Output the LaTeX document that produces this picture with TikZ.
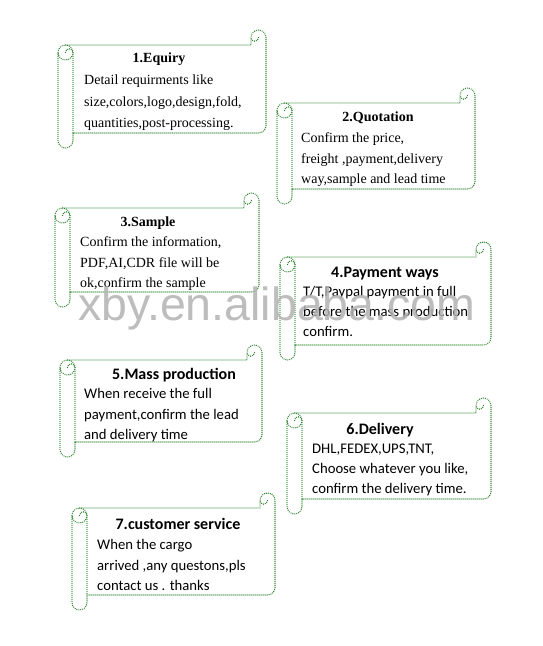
\documentclass[tikz,border=0pt]{standalone}
\usepackage{fontspec}
\setmainfont{Liberation Serif}
\newfontfamily\calib{Carlito}
\newfontfamily\wmfont{Liberation Sans}
\definecolor{scrollgreen}{RGB}{40,130,40}
\definecolor{wmgray}{RGB}{178,178,178}
\tikzset{
  scrollline/.style={draw=scrollgreen, line width=1.35pt, dash pattern=on 0pt off 2pt, line cap=round},
  ttl/.style={anchor=base, inner sep=0pt, font=\fontsize{14}{16}\selectfont\bfseries},
  bdy/.style={anchor=base west, inner sep=0pt, font=\fontsize{14}{16}\selectfont},
  cttl/.style={anchor=base, inner sep=0pt, font=\calib\fontsize{16}{18}\selectfont\bfseries},
  cbdy/.style={anchor=base west, inner sep=0pt, font=\calib\fontsize{14.7}{17}\selectfont},
  watermark/.style={anchor=base west, inner sep=0pt, text=wmgray, opacity=0.85, font=\wmfont\fontsize{46.5}{50}\selectfont}
}
\newcommand\myscroll[5]{%
  \pgfmathsetmacro\ra{#5/2}%
  \pgfmathsetmacro\rb{#5/4}%
  \draw[scrollline] (#1,#2+#5+\ra) -- (#1,#4-\ra)
     arc[start angle=180,end angle=0,radius=\ra] -- (#1+#5,#4-#5)
     -- (#3-\ra,#4-#5) arc[start angle=90,end angle=0,radius=\ra]
     -- (#3,#2+\ra) arc[start angle=0,end angle=-180,radius=\ra]
     -- (#3-#5,#2+#5) -- (#1+\ra,#2+#5)
     arc[start angle=270,end angle=180,radius=\ra] -- cycle;
  \draw[scrollline] (#1+\ra,#2+#5) arc[start angle=270,end angle=540,radius=\ra];
  \draw[scrollline] (#1+#5,#2+#5+\ra) -- (#1+#5,#4-#5);
  \draw[scrollline] (#3-\ra,#2+\ra) arc[start angle=0,end angle=180,radius=\rb];
  \draw[scrollline] (#1+\ra,#2+#5+\ra) arc[start angle=180,end angle=360,radius=\rb];
}
\begin{document}
\begin{tikzpicture}[x=1pt,y=1pt,yscale=-1]
\useasboundingbox[fill=white] (0,0) rectangle (543,646);
% 1
\myscroll{58}{30}{266}{148}{15}
\node[ttl] (n1t) at (159,62) {1.Equiry};
\node[bdy] (n1a) at (84,84) {Detail requirments like};
\node[bdy] (n1b) at (84,106) {size,colors,logo,design,fold,};
\node[bdy] (n1c) at (84,127) {quantities,post-processing.};
% 2
\myscroll{277}{88}{475}{204}{15}
\node[ttl] (n2t) at (378,121) {2.Quotation};
\node[bdy] (n2a) at (301,142) {Confirm the price,};
\node[bdy] (n2b) at (301,163) {freight ,payment,delivery};
\node[bdy] (n2c) at (301,183) {way,sample and lead time};
% 3
\myscroll{55}{193}{259}{307}{15}
\node[ttl] (n3t) at (148,226) {3.Sample};
\node[bdy] (n3a) at (80,246) {Confirm the information,};
\node[bdy] (n3b) at (80,267) {PDF,AI,CDR file will be};
\begin{scope}
\clip (60,270) rectangle (259,291.5);
\node[bdy] (n3c) at (80,287) {ok,confirm the sample};
\end{scope}
% 4
\myscroll{280}{242}{491}{360}{15}
\node[cttl] (n4t) at (385,277) {4.Payment ways};
\node[cbdy] (n4a) at (303,296) {T/T,Paypal payment in full};
\node[cbdy] (n4b) at (303,316) {before the mass production};
\node[cbdy] (n4c) at (303,336) {confirm.};
% 5
\myscroll{60}{345}{262}{457}{15}
\node[cttl] (n5t) at (174,379) {5.Mass production};
\node[cbdy] (n5a) at (84,398) {When receive the full};
\node[cbdy] (n5b) at (84,419) {payment,confirm the lead};
\node[cbdy] (n5c) at (84,439) {and delivery time};
% 6
\myscroll{287}{398}{491}{514}{15}
\node[cttl] (n6t) at (380,434) {6.Delivery};
\node[cbdy] (n6a) at (312,453) {DHL,FEDEX,UPS,TNT,};
\node[cbdy] (n6b) at (312,473) {Choose whatever you like,};
\node[cbdy] (n6c) at (312,493) {confirm the delivery time.};
% 7
\myscroll{72}{493}{275}{610}{15}
\node[cttl] (n7t) at (178,529) {7.customer service};
\node[cbdy] (n7a) at (97,549) {When the cargo};
\node[cbdy] (n7b) at (97,570) {arrived ,any questons,pls};
\node[cbdy] (n7c) at (97,590) {contact us . thanks};
% watermark
\node[watermark] (wm) at (78,320) {xby.en.alibaba.com};
\end{tikzpicture}
\end{document}
